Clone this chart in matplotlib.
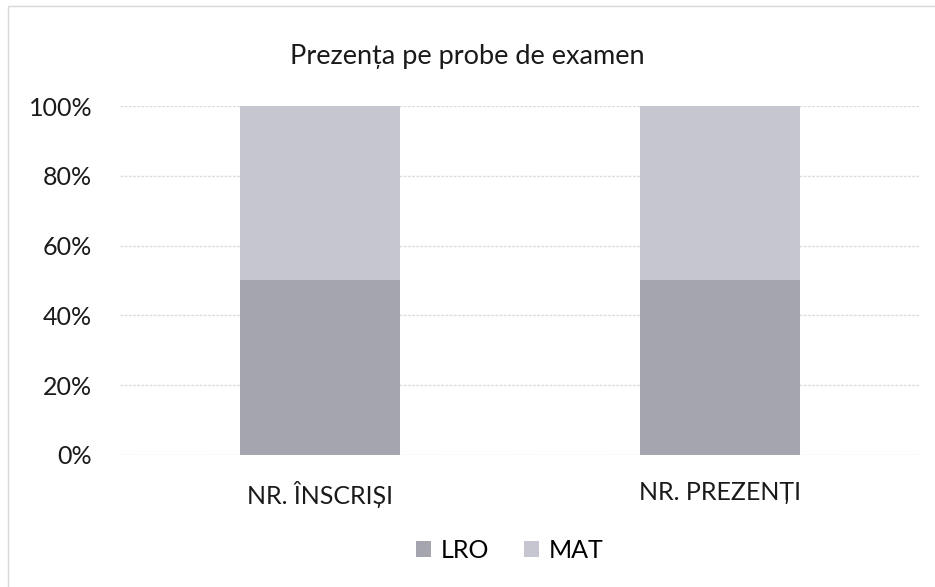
import matplotlib
matplotlib.use("Agg")
import matplotlib.pyplot as plt
from matplotlib.patches import Rectangle
from matplotlib.ticker import PercentFormatter

categories = ["NR. ÎNSCRIȘI", "NR. PREZENȚI"]
lro_share = [50.0, 50.2]
mat_share = [50.0, 49.8]
series_labels = ["LRO", "MAT"]
LRO_COLOR = "#a4a5ae"
MAT_COLOR = "#c5c6cf"

plt.rcParams["font.family"] = ["Lato", "DejaVu Sans"]

fig = plt.figure(figsize=(9.35, 5.87), dpi=100)
ax = fig.add_axes([0.1283, 0.2249, 0.8556, 0.5945])

x = list(range(len(categories)))
ax.bar(x, lro_share, width=0.4, color=LRO_COLOR, label=series_labels[0], zorder=2)
ax.bar(x, mat_share, width=0.4, bottom=lro_share, color=MAT_COLOR,
       label=series_labels[1], zorder=2)

ax.set_xlim(-0.5, 1.5)
ax.set_ylim(0, 100)
ax.set_yticks(range(0, 101, 20))
ax.yaxis.set_major_formatter(PercentFormatter(decimals=0))
ax.set_xticks(x)
ax.set_xticklabels(categories)
ax.tick_params(axis="both", length=0, labelsize=18, colors="#1a1a1a")
ax.tick_params(axis="x", pad=19)
ax.tick_params(axis="y", pad=20)
ax.grid(axis="y", color="#dcdcdc", linewidth=1, linestyle=(0, (2, 1)), zorder=0)
for s in ax.spines.values():
    s.set_visible(False)

fig.text(0.5, 0.903, "Prezența pe probe de examen", ha="center", va="center",
         fontsize=19.5, color="#1a1a1a")

handles, labels = ax.get_legend_handles_labels()
fig.legend(handles, labels, loc="center", bbox_to_anchor=(0.545, 0.063), ncol=2,
           frameon=False, fontsize=18, handlelength=0.6, handleheight=0.6,
           handletextpad=0.4, columnspacing=1.4)

fig.add_artist(Rectangle((0.009, -0.01), 1.1, 1.0, transform=fig.transFigure,
                         fill=False, edgecolor="#d8d8d8", linewidth=1))

fig.savefig("out.png", dpi=100)
